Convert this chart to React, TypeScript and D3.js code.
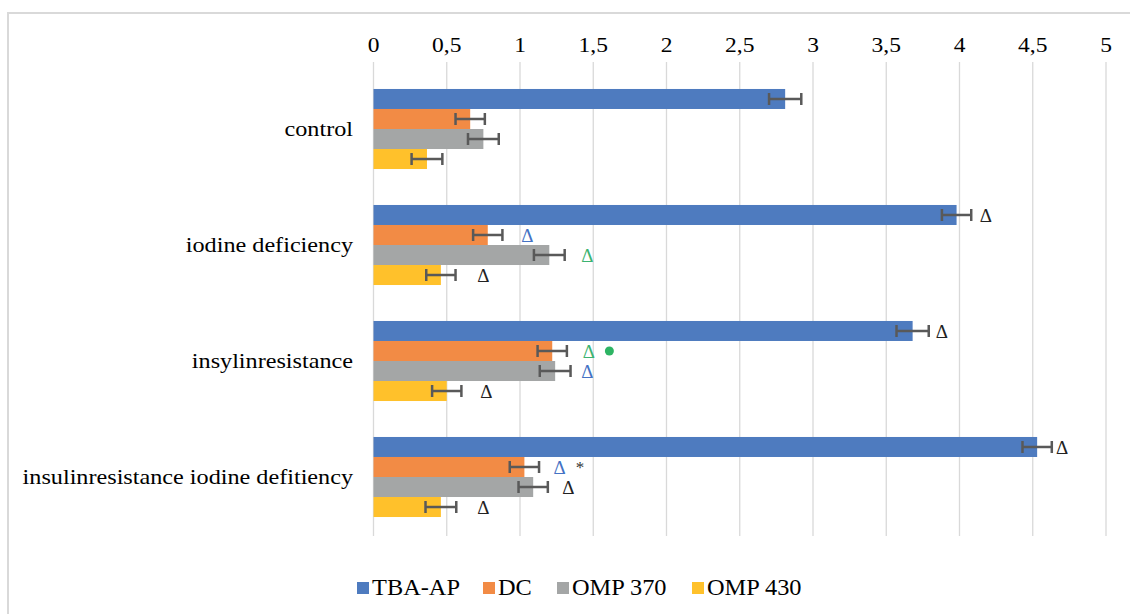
import React from 'react';
import * as d3 from 'd3';

const categories = ['control', 'iodine deficiency', 'insylinresistance', 'insulinresistance iodine defitiency'];
const seriesNames = ['TBA-AP', 'DC', 'OMP 370', 'OMP 430'];
const seriesColors = ['#4E7BBF', '#F28B45', '#A4A6A6', '#FFC12B'];

const tbaAp = [2.81, 3.98, 3.68, 4.53];
const dc = [0.66, 0.78, 1.22, 1.03];
const omp370 = [0.75, 1.2, 1.24, 1.09];
const omp430 = [0.365, 0.46, 0.5, 0.46];

const tbaApErr = [0.11, 0.1, 0.11, 0.1];
const dcErr = [0.1, 0.1, 0.1, 0.1];
const omp370Err = [0.105, 0.105, 0.105, 0.1];
const omp430Err = [0.105, 0.1, 0.1, 0.105];

const xTicks = [0, 0.5, 1, 1.5, 2, 2.5, 3, 3.5, 4, 4.5, 5];
const xTickLabels = ['0', '0,5', '1', '1,5', '2', '2,5', '3', '3,5', '4', '4,5', '5'];

const annCat = [1, 1, 1, 1, 2, 2, 2, 2, 2, 3, 3, 3, 3, 3];
const annSeries = [0, 1, 2, 3, 0, 1, 1, 2, 3, 0, 1, 1, 2, 3];
const annText = ['Δ', 'Δ', 'Δ', 'Δ', 'Δ', 'Δ', '●', 'Δ', 'Δ', 'Δ', 'Δ', '*', 'Δ', 'Δ'];
const annColor = ['#222', '#4472C4', '#3CB371', '#222', '#222', '#3CB371', '#2DB463', '#4472C4', '#222', '#222', '#4472C4', '#333', '#222', '#222'];
const annAt = [4.18, 1.05, 1.46, 0.75, 3.88, 1.47, 1.61, 1.46, 0.77, 4.7, 1.27, 1.41, 1.33, 0.75];

const values = [tbaAp, dc, omp370, omp430];
const errs = [tbaApErr, dcErr, omp370Err, omp430Err];

const W = 1130;
const H = 614;
const FONT = "'Liberation Serif', 'DejaVu Serif', serif";

export default function App() {
  const x = d3.scaleLinear().domain([0, 5]).range([373.5, 1106]);
  const y = d3.scaleBand<string>().domain(categories).range([71, 535]).paddingInner(0).paddingOuter(0);
  const groupH = y.bandwidth() * 0.69;
  const inner = d3.scaleBand<number>().domain([0, 1, 2, 3]).range([0, groupH]).padding(0);
  const groupTop = (c: string) => (y(c) as number) + (y.bandwidth() - groupH) / 2;

  const legendX = [357, 483, 557, 692];
  const txt = { fontFamily: FONT };

  return (
    <svg width={W} height={H} style={{ position: 'fixed', left: 0, top: 0, background: '#fff' }}>
      <rect x={0} y={0} width={W} height={H} fill="#fff" />
      <rect x={8} y={13} width={1200} height={700} fill="none" stroke="#d9d9d9" strokeWidth={2} />
      {xTicks.map((t, i) => (
        <g key={i}>
          <line x1={x(t)} x2={x(t)} y1={62} y2={536} stroke="#d9d9d9" strokeWidth={1.3} />
          <text transform={`translate(${x(t)},52) scale(1.12,1)`} textAnchor="middle" fontSize={21} fill="#000" style={txt}>{xTickLabels[i]}</text>
        </g>
      ))}
      {categories.map((c, ci) => (
        <g key={c}>
          <text transform={`translate(353,${(y(c) as number) + y.bandwidth() / 2 + 7}) scale(1.1,1)`} textAnchor="end" fontSize={22} fill="#000" style={txt}>{c}</text>
          {values.map((vals, si) => {
            const top = groupTop(c) + (inner(si) as number);
            const h = inner.bandwidth();
            const v = vals[ci];
            const e = errs[si][ci];
            const cy = top + h / 2;
            return (
              <g key={si}>
                <rect x={x(0)} y={top} width={x(v) - x(0)} height={h} fill={seriesColors[si]} />
                <line x1={x(v - e)} x2={x(v + e)} y1={cy} y2={cy} stroke="#595959" strokeWidth={2.5} />
                <line x1={x(v - e)} x2={x(v - e)} y1={cy - 6} y2={cy + 6} stroke="#595959" strokeWidth={2.5} />
                <line x1={x(v + e)} x2={x(v + e)} y1={cy - 6} y2={cy + 6} stroke="#595959" strokeWidth={2.5} />
              </g>
            );
          })}
        </g>
      ))}
      {annText.map((t, i) => {
        const c = categories[annCat[i]];
        const top = groupTop(c) + (inner(annSeries[i]) as number);
        const cy = top + inner.bandwidth() / 2;
        if (t === '●') {
          return <circle key={i} cx={x(annAt[i])} cy={cy} r={4.5} fill={annColor[i]} />;
        }
        const isStar = t === '*';
        return (
          <text key={i} x={x(annAt[i])} y={cy + (isStar ? 6 : 7)} textAnchor="middle"
            fontSize={isStar ? 17 : 19} fill={annColor[i]} style={txt}>{t}</text>
        );
      })}
      {seriesNames.map((s, i) => (
        <g key={s}>
          <rect x={legendX[i]} y={582} width={12} height={12} fill={seriesColors[i]} />
          <text transform={`translate(${legendX[i] + 15},595) scale(1.06,1)`} fontSize={23} fill="#000" style={txt}>{s}</text>
        </g>
      ))}
    </svg>
  );
}
